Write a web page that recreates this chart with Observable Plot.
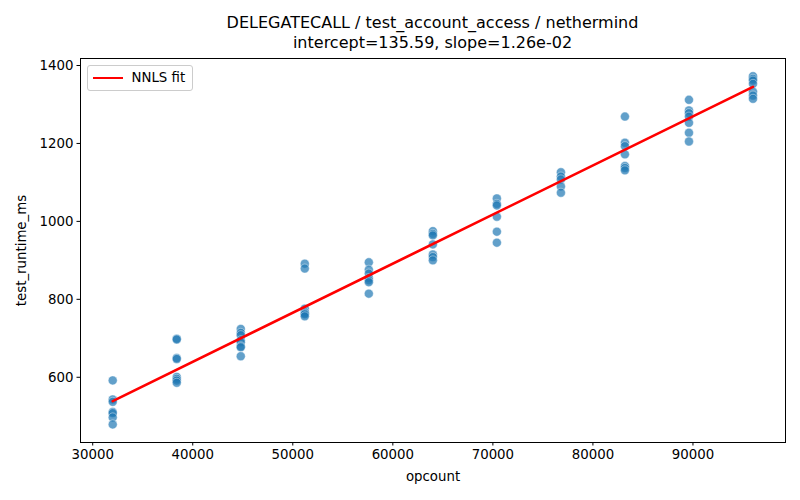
<!DOCTYPE html>
<html>
<head>
<meta charset="utf-8">
<script src="https://cdn.jsdelivr.net/npm/d3@7"></script>
<script src="https://cdn.jsdelivr.net/npm/@observablehq/plot@0.6"></script>
<style>
  html, body { margin: 0; padding: 0; background: white; }
  #wrap { position: relative; width: 800px; height: 500px; font-family: "DejaVu Sans", sans-serif; }
  #title { height: 53px; box-sizing: border-box; padding-top: 13px; padding-left: 80px; width: 785px;
           text-align: center; font-size: 16px; line-height: 20px; color: black; }
  #legend { position: absolute; left: 86.5px; top: 65px; width: 104px; height: 24px;
            border: 1px solid #cccccc; border-radius: 3px; background: rgba(255,255,255,0.8);
            font-size: 13.33px; color: black; }
  #legend .ln { position: absolute; left: 5px; top: 10.5px; width: 30px; height: 2.67px; background: red; }
  #legend .tx { position: absolute; left: 44px; top: 3px; line-height: 17px; }
</style>
</head>
<body>
<div id="wrap">
  <div id="title">DELEGATECALL / test_account_access / nethermind<br>intercept=135.59, slope=1.26e-02</div>
  <div id="chart"></div>
  <div id="legend"><div class="ln"></div><div class="tx">NNLS fit</div></div>
</div>
<script>
const opcountLevels = [32000, 38400, 44800, 51200, 57600, 64000, 70400, 76800, 83200, 89600, 96000];
const runtimeByLevel = [
  [592, 543, 537, 511, 508, 497, 479],
  [699, 697, 649.5, 647, 601, 596, 591.5, 586],
  [724, 714, 708, 695, 690, 679.5, 677, 654],
  [891.5, 879, 776, 767.5, 764, 761.5, 756.4],
  [895, 876, 866, 854.6, 849, 844, 814.6],
  [975, 968, 964, 941, 915, 908.5, 900],
  [1059, 1045, 1041, 1012, 973.6, 945.4],
  [1126, 1115, 1107.7, 1089.7, 1073.6],
  [1269, 1201.8, 1193, 1172, 1142, 1137, 1131],
  [1312, 1284.6, 1277.7, 1269, 1253, 1227.4, 1205],
  [1372.6, 1366, 1361.5, 1353, 1333, 1323, 1314.6]
];
const fitIntercept = 135.59;
const fitSlope = 1.26e-02;
const xTicks = [30000, 40000, 50000, 60000, 70000, 80000, 90000];
const yTicks = [600, 800, 1000, 1200, 1400];

const points = [];
opcountLevels.forEach((x, i) => runtimeByLevel[i].forEach(y => points.push({opcount: x, runtime: y})));
const xMin = d3.min(opcountLevels), xMax = d3.max(opcountLevels);
const fit = [xMin, xMax].map(x => ({opcount: x, runtime: fitIntercept + fitSlope * x}));

const chart = Plot.plot({
  width: 800,
  height: 447,
  marginTop: 5,
  marginBottom: 58,
  marginLeft: 80,
  marginRight: 15,
  style: { fontFamily: "DejaVu Sans, sans-serif", fontSize: "13.33px", color: "black", background: "white" },
  x: { domain: [28780, 99250] },
  y: { domain: [432.6, 1418] },
  marks: [
    Plot.dot(points, { x: "opcount", y: "runtime", r: 4.5, fill: "#1f77b4", fillOpacity: 0.7,
                       stroke: "white", strokeOpacity: 0.7, strokeWidth: 0.6 }),
    Plot.line(fit, { x: "opcount", y: "runtime", stroke: "red", strokeWidth: 2.67 }),
    Plot.frame({ stroke: "black", strokeWidth: 1 }),
    Plot.axisX({ ticks: xTicks, tickFormat: d => String(d), tickSize: 3.5, tickPadding: 3.5,
                 label: "opcount", labelAnchor: "center", labelArrow: "none", labelOffset: 38 }),
    Plot.axisY({ ticks: yTicks, tickFormat: d => String(d), tickSize: 3.5, tickPadding: 3.5,
                 label: "test_runtime_ms", labelAnchor: "center", labelArrow: "none", labelOffset: 64 })
  ]
});
document.getElementById("chart").appendChild(chart);
</script>
</body>
</html>
